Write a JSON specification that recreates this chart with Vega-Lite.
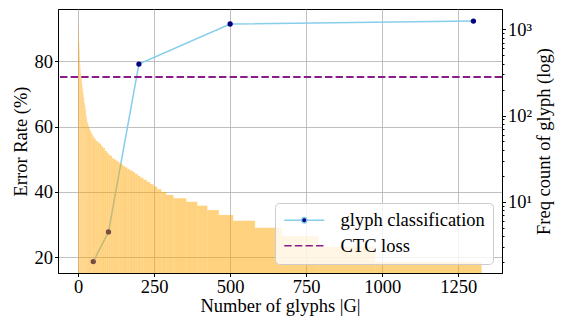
{
  "$schema": "https://vega.github.io/schema/vega-lite/v6.json",
  "width": 444,
  "height": 264,
  "autosize": {"type": "none"},
  "padding": {"left": 58, "top": 9, "right": 59, "bottom": 44},
  "config": {
    "font": "Liberation Serif",
    "view": {"stroke": "black", "strokeWidth": 1},
    "axis": {
      "labelFont": "Liberation Serif",
      "titleFont": "Liberation Serif",
      "labelFontSize": 18.5,
      "titleFontSize": 18.5,
      "titleFontWeight": "normal",
      "labelColor": "black",
      "titleColor": "black",
      "domainColor": "black",
      "tickColor": "black",
      "tickSize": 3.5,
      "labelPadding": 2,
      "gridColor": "#b0b0b0",
      "gridWidth": 0.8,
      "labelOverlap": false,
      "labelFlush": false
    },
    "legend": {
      "orient": "bottom-right",
      "offset": 9,
      "labelFont": "Liberation Serif",
      "labelFontSize": 18.5,
      "labelColor": "black",
      "symbolSize": 256,
      "symbolStrokeWidth": 1.5,
      "labelOffset": 39,
      "padding": 8,
      "rowPadding": 6.5,
      "fillColor": "rgba(255,255,255,0.8)",
      "strokeColor": "#cccccc",
      "cornerRadius": 4
    }
  },
  "layer": [
    {
      "layer": [
        {
          "data": {"values": [
            {"g": 50, "err": 18.6, "series": "glyph classification"},
            {"g": 100, "err": 27.7, "series": "glyph classification"},
            {"g": 200, "err": 79.2, "series": "glyph classification"},
            {"g": 500, "err": 91.5, "series": "glyph classification"},
            {"g": 1300, "err": 92.4, "series": "glyph classification"}
          ]},
          "mark": {"type": "line", "strokeWidth": 1.5},
          "encoding": {
            "x": {"field": "g", "type": "quantitative", "scale": {"domain": [-66, 1394], "nice": false, "zero": false},
                  "axis": {"title": "Number of glyphs |G|", "values": [0, 250, 500, 750, 1000, 1250], "format": "d", "grid": true, "labelPadding": 1, "titlePadding": 0}},
            "y": {"field": "err", "type": "quantitative", "scale": {"domain": [15.1, 96.1], "nice": false, "zero": false},
                  "axis": {"title": "Error Rate (%)", "values": [20, 40, 60, 80], "grid": true, "orient": "left", "titlePadding": 4}},
            "color": {"field": "series", "type": "nominal",
                      "scale": {"domain": ["glyph classification", "CTC loss"], "range": ["#87ceeb", "#8b1a8b"]},
                      "legend": {
                        "title": null,
                        "encode": {"symbols": {"update": {
                          "shape": {"signal": "datum.value === 'CTC loss' ? 'M-1,0H4' : 'M-1,0H1.16M1.84,0H4M1.84,0A0.34,0.34 0 1 1 1.16,0A0.34,0.34 0 1 1 1.84,0'"},
                          "fill": {"signal": "datum.value === 'CTC loss' ? 'transparent' : '#000080'"},
                          "stroke": {"signal": "datum.value === 'CTC loss' ? '#8b1a8b' : {gradient: 'linear', stops: [{offset: 0, color: '#87ceeb'}, {offset: 0.41, color: '#87ceeb'}, {offset: 0.41, color: '#000080'}, {offset: 0.59, color: '#000080'}, {offset: 0.59, color: '#87ceeb'}, {offset: 1, color: '#87ceeb'}]}"},
                          "strokeDash": {"signal": "datum.value === 'CTC loss' ? [7.4, 3.2] : [1, 0]"},
                          "strokeWidth": {"value": 1.5},
                          "opacity": {"value": 1}
                        }}}
                      }}
          }
        },
        {
          "data": {"values": [
            {"g": 50, "err": 18.6},
            {"g": 100, "err": 27.7},
            {"g": 200, "err": 79.2},
            {"g": 500, "err": 91.5},
            {"g": 1300, "err": 92.4}
          ]},
          "mark": {"type": "point", "filled": true, "size": 28, "color": "#000080", "opacity": 1},
          "encoding": {
            "x": {"field": "g", "type": "quantitative"},
            "y": {"field": "err", "type": "quantitative"}
          }
        },
        {
          "data": {"values": [{"err": 75.2, "series": "CTC loss"}]},
          "mark": {"type": "rule", "strokeWidth": 2, "strokeDash": [7.4, 3.2]},
          "encoding": {
            "y": {"field": "err", "type": "quantitative"},
            "color": {"field": "series", "type": "nominal"}
          }
        }
      ]
    },
    {
      "data": {"values": [
        {"x0": 0, "x1": 1, "n": 1250}, {"x0": 1, "x1": 2, "n": 950}, {"x0": 2, "x1": 3, "n": 800},
        {"x0": 3, "x1": 4, "n": 700}, {"x0": 4, "x1": 5, "n": 580}, {"x0": 5, "x1": 6, "n": 470},
        {"x0": 6, "x1": 7, "n": 390}, {"x0": 7, "x1": 8, "n": 350}, {"x0": 8, "x1": 10, "n": 310},
        {"x0": 10, "x1": 12, "n": 270}, {"x0": 12, "x1": 14, "n": 235}, {"x0": 14, "x1": 16, "n": 205},
        {"x0": 16, "x1": 18, "n": 180}, {"x0": 18, "x1": 20, "n": 160}, {"x0": 20, "x1": 22, "n": 142},
        {"x0": 22, "x1": 24, "n": 128}, {"x0": 24, "x1": 26, "n": 116}, {"x0": 26, "x1": 28, "n": 100},
        {"x0": 28, "x1": 30, "n": 90}, {"x0": 30, "x1": 33, "n": 82}, {"x0": 33, "x1": 36, "n": 76},
        {"x0": 36, "x1": 40, "n": 70}, {"x0": 40, "x1": 44, "n": 65}, {"x0": 44, "x1": 48, "n": 61},
        {"x0": 48, "x1": 52, "n": 57}, {"x0": 52, "x1": 58, "n": 54}, {"x0": 58, "x1": 64, "n": 51},
        {"x0": 64, "x1": 70, "n": 49}, {"x0": 70, "x1": 76, "n": 47}, {"x0": 76, "x1": 82, "n": 44},
        {"x0": 82, "x1": 88, "n": 42}, {"x0": 88, "x1": 94, "n": 39}, {"x0": 94, "x1": 100, "n": 37},
        {"x0": 100, "x1": 106, "n": 35}, {"x0": 106, "x1": 112, "n": 34}, {"x0": 112, "x1": 118, "n": 32},
        {"x0": 118, "x1": 124, "n": 31}, {"x0": 124, "x1": 130, "n": 30}, {"x0": 130, "x1": 136, "n": 29},
        {"x0": 136, "x1": 142, "n": 28}, {"x0": 142, "x1": 148, "n": 27}, {"x0": 148, "x1": 154, "n": 26},
        {"x0": 154, "x1": 162, "n": 25}, {"x0": 162, "x1": 170, "n": 24}, {"x0": 170, "x1": 180, "n": 23},
        {"x0": 180, "x1": 188, "n": 22}, {"x0": 188, "x1": 196, "n": 21}, {"x0": 196, "x1": 205, "n": 20},
        {"x0": 205, "x1": 215, "n": 19}, {"x0": 215, "x1": 226, "n": 18}, {"x0": 226, "x1": 237, "n": 17},
        {"x0": 237, "x1": 248, "n": 16}, {"x0": 248, "x1": 260, "n": 15}, {"x0": 260, "x1": 274, "n": 14},
        {"x0": 274, "x1": 290, "n": 13}, {"x0": 290, "x1": 314, "n": 12}, {"x0": 314, "x1": 356, "n": 11},
        {"x0": 356, "x1": 392, "n": 10}, {"x0": 392, "x1": 425, "n": 9}, {"x0": 425, "x1": 463, "n": 8},
        {"x0": 463, "x1": 510, "n": 7}, {"x0": 510, "x1": 582, "n": 6}, {"x0": 582, "x1": 670, "n": 5},
        {"x0": 670, "x1": 790, "n": 4}, {"x0": 790, "x1": 977, "n": 3}, {"x0": 977, "x1": 1327, "n": 2}
      ]},
      "mark": {"type": "bar", "color": "#ffa500", "opacity": 0.5, "clip": true},
      "encoding": {
        "x": {"field": "x0", "type": "quantitative", "axis": {"title": "Number of glyphs |G|", "values": [0, 250, 500, 750, 1000, 1250], "format": "d", "grid": true, "labelPadding": 1, "titlePadding": 0}},
        "x2": {"field": "x1"},
        "y": {"field": "n", "type": "quantitative",
              "scale": {"type": "log", "domain": [1.49, 1720], "nice": false},
              "axis": {"orient": "right", "title": "Freq count of glyph (log)", "grid": false,
                       "values": [2, 3, 4, 5, 6, 7, 8, 9, 10, 20, 30, 40, 50, 60, 70, 80, 90, 100, 200, 300, 400, 500, 600, 700, 800, 900, 1000],
                       "labelExpr": "datum.value == 1000 ? '10³' : datum.value == 100 ? '10²' : datum.value == 10 ? '10¹' : ''",
                       "tickSize": {"condition": {"test": "datum.value == 10 || datum.value == 100 || datum.value == 1000", "value": 3.5}, "value": 2},
                       "titleAngle": 270, "titleBaseline": "top", "titlePadding": 3}},
        "y2": {"datum": 1}
      }
    }
  ],
  "resolve": {"scale": {"y": "independent"}}
}
